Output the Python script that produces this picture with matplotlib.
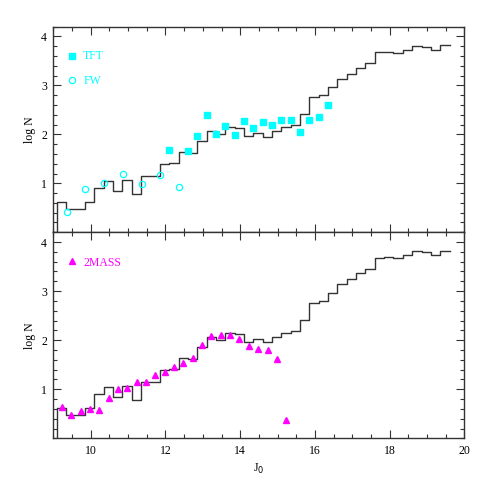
import numpy as np
import matplotlib
matplotlib.use("Agg")
import matplotlib.pyplot as plt
from matplotlib.ticker import MultipleLocator

plt.rcParams['font.family'] = ['Liberation Serif', 'DejaVu Serif']

# histogram (same model counts in both panels), bins of 0.25 mag
bin_start = 9.1
bin_width = 0.25
hist_logn = [0.61, 0.48, 0.48, 0.61, 0.905, 1.05, 0.85, 1.075, 0.78, 1.15,
             1.15, 1.39, 1.42, 1.63, 1.625, 1.857, 2.075, 2.01, 2.155, 2.12,
             1.966, 2.034, 1.955, 2.075, 2.143, 2.19, 2.41, 2.76, 2.80, 2.96,
             3.136, 3.24, 3.36, 3.456, 3.675, 3.69, 3.67, 3.728, 3.813, 3.79,
             3.728, 3.826]

# TFT (filled squares)
tft_j = [12.1, 12.6, 12.85, 13.1, 13.35, 13.6, 13.85, 14.1, 14.35, 14.6,
         14.85, 15.1, 15.35, 15.6, 15.85, 16.1, 16.35]
tft_logn = [1.69, 1.66, 1.97, 2.39, 2.01, 2.18, 1.99, 2.28, 2.14, 2.25,
            2.20, 2.30, 2.30, 2.04, 2.29, 2.35, 2.60]

# FW (open circles)
fw_j = [9.36, 9.86, 10.36, 10.86, 11.36, 11.86, 12.36]
fw_logn = [0.42, 0.89, 1.00, 1.20, 0.98, 1.16, 0.93]

# 2MASS (filled triangles)
mass_j = [9.23, 9.48, 9.73, 9.98, 10.23, 10.48, 10.73, 10.98, 11.23, 11.48,
          11.73, 11.98, 12.23, 12.48, 12.73, 12.98, 13.23, 13.48, 13.73, 13.98,
          14.23, 14.48, 14.73, 14.98, 15.23]
mass_logn = [0.63, 0.48, 0.55, 0.60, 0.57, 0.82, 1.01, 1.035, 1.14, 1.14,
             1.29, 1.36, 1.46, 1.54, 1.64, 1.90, 2.09, 2.10, 2.11, 2.03,
             1.88, 1.82, 1.79, 1.61, 0.38]

cyan = '#00ffff'
magenta = '#ff00ff'
line_col = '#333333'

edges = bin_start + bin_width * np.arange(len(hist_logn) + 1)
xs = np.repeat(edges, 2)[:-1]
ys = np.concatenate([[0], np.repeat(hist_logn, 2)])

fig = plt.figure(figsize=(4.91, 4.91), dpi=100)
ax1 = fig.add_axes([0.1086, 0.527, 0.8374, 0.4186])
ax2 = fig.add_axes([0.1086, 0.1073, 0.8374, 0.4197], sharex=ax1)

for ax in (ax1, ax2):
    ax.plot(xs, ys, color=line_col, lw=1.0)
    ax.set_xlim(9, 20)
    ax.set_ylim(0, 4.2)
    ax.xaxis.set_major_locator(MultipleLocator(2))
    ax.xaxis.set_minor_locator(MultipleLocator(0.5))
    ax.set_yticks([1, 2, 3, 4])
    ax.yaxis.set_minor_locator(MultipleLocator(0.2))
    ax.tick_params(which='both', direction='in', top=True, right=True,
                   labelsize=8.5, color=line_col, width=0.8, pad=4.5)
    ax.tick_params(which='major', length=6)
    ax.tick_params(which='minor', length=3)
    for s in ax.spines.values():
        s.set_color(line_col)
        s.set_linewidth(1.0)
    ax.set_ylabel('log N', fontsize=8.5, labelpad=4)

ax1.tick_params(labelbottom=False)

ax1.plot(tft_j, tft_logn, 's', color=cyan, ms=4.2, mec=cyan)
ax1.plot(fw_j, fw_logn, 'o', mfc='none', mec=cyan, ms=4.5, mew=0.9)
ax1.plot([9.5], [3.6], 's', color=cyan, ms=4.2)
ax1.text(9.8, 3.6, 'TFT', color=cyan, fontsize=8.5, va='center')
ax1.plot([9.5], [3.11], 'o', mfc='none', mec=cyan, ms=4.5, mew=0.9)
ax1.text(9.8, 3.1, 'FW', color=cyan, fontsize=8.5, va='center')

ax2.plot(mass_j, mass_logn, '^', color=magenta, ms=4.8)
ax2.plot([9.5], [3.62], '^', color=magenta, ms=4.8)
ax2.text(9.8, 3.57, '2MASS', color=magenta, fontsize=8.5, va='center')
ax2.set_xlabel('J$_0$', fontsize=8.5, labelpad=4)

fig.savefig('out.png', dpi=100)
